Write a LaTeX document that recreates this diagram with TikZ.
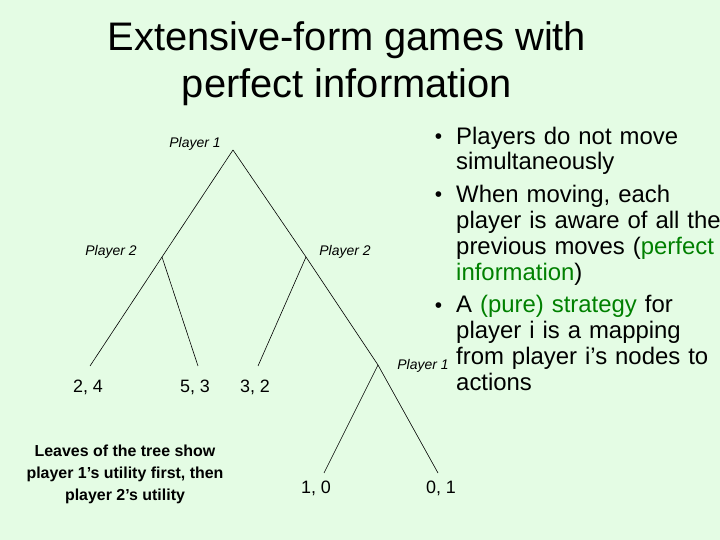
\documentclass[tikz,border=0pt]{standalone}
\usepackage{fontspec}
\setmainfont{Liberation Sans}
\usepackage{enumitem}
\definecolor{slidebg}{RGB}{228,252,228}
\definecolor{keyterm}{RGB}{0,128,0}

\begin{document}
\begin{tikzpicture}[x=1bp,y=1bp,
	player/.style={font=\fontsize{14}{16}\selectfont\itshape,inner sep=0pt},
	payoff/.style={font=\fontsize{18}{20}\selectfont,inner sep=0pt},
	move/.style={line width=0.6bp}]
\fill[slidebg] (0,0) rectangle (720,540);
\useasboundingbox (0,0) rectangle (720,540);
\node[align=center,font=\fontsize{40}{47}\selectfont,inner sep=0pt] (title) at (347,476)
	{Extensive-form games with\\perfect information};
\coordinate (root) at (233,390);
\coordinate (p2l) at (162,283);
\coordinate (p2r) at (306,283);
\coordinate (p1b) at (378,175);
\coordinate (e24) at (90,174);
\coordinate (e53) at (198,174);
\coordinate (e32) at (258,174);
\coordinate (e10) at (324,67);
\coordinate (e01) at (438,67);
\draw[move] (root) -- (p2l) -- (e24);
\draw[move] (p2l) -- (e53);
\draw[move] (root) -- (p2r) -- (p1b) -- (e01);
\draw[move] (p2r) -- (e32);
\draw[move] (p1b) -- (e10);
\node[player] (lroot) at (195,396) {Player 1};
\node[player] (lp2l) at (111,288) {Player 2};
\node[player] (lp2r) at (345,288) {Player 2};
\node[player] (lp1b) at (423,174) {Player 1};
\node[payoff] (u24) at (88,153) {2, 4};
\node[payoff] (u53) at (195,153) {5, 3};
\node[payoff] (u32) at (255,153) {3, 2};
\node[payoff] (u10) at (316,52) {1, 0};
\node[payoff] (u01) at (441,52) {0, 1};
\node[align=center,font=\fontsize{16}{22}\selectfont\bfseries,inner sep=0pt] (legend) at (125,66)
	{Leaves of the tree show\\player 1’s utility first, then\\player 2’s utility};
\node[anchor=north west,inner sep=0pt,text width=330bp,font=\fontsize{24}{26}\selectfont] (notes) at (430,422)
	{\raggedright
	\begin{itemize}[nosep,itemsep=6.5bp,leftmargin=26bp,labelsep=14bp,label={\raisebox{0.5bp}{\fontsize{21}{21}\selectfont\textbullet}}]
	\item Players do not move\\simultaneously
	\item When moving, each\\player is aware of all the\\previous moves (\textcolor{keyterm}{perfect}\\\textcolor{keyterm}{information})
	\item A \textcolor{keyterm}{(pure) strategy} for\\player i is a mapping\\from player i’s nodes to\\actions
	\end{itemize}};
\end{tikzpicture}
\end{document}
